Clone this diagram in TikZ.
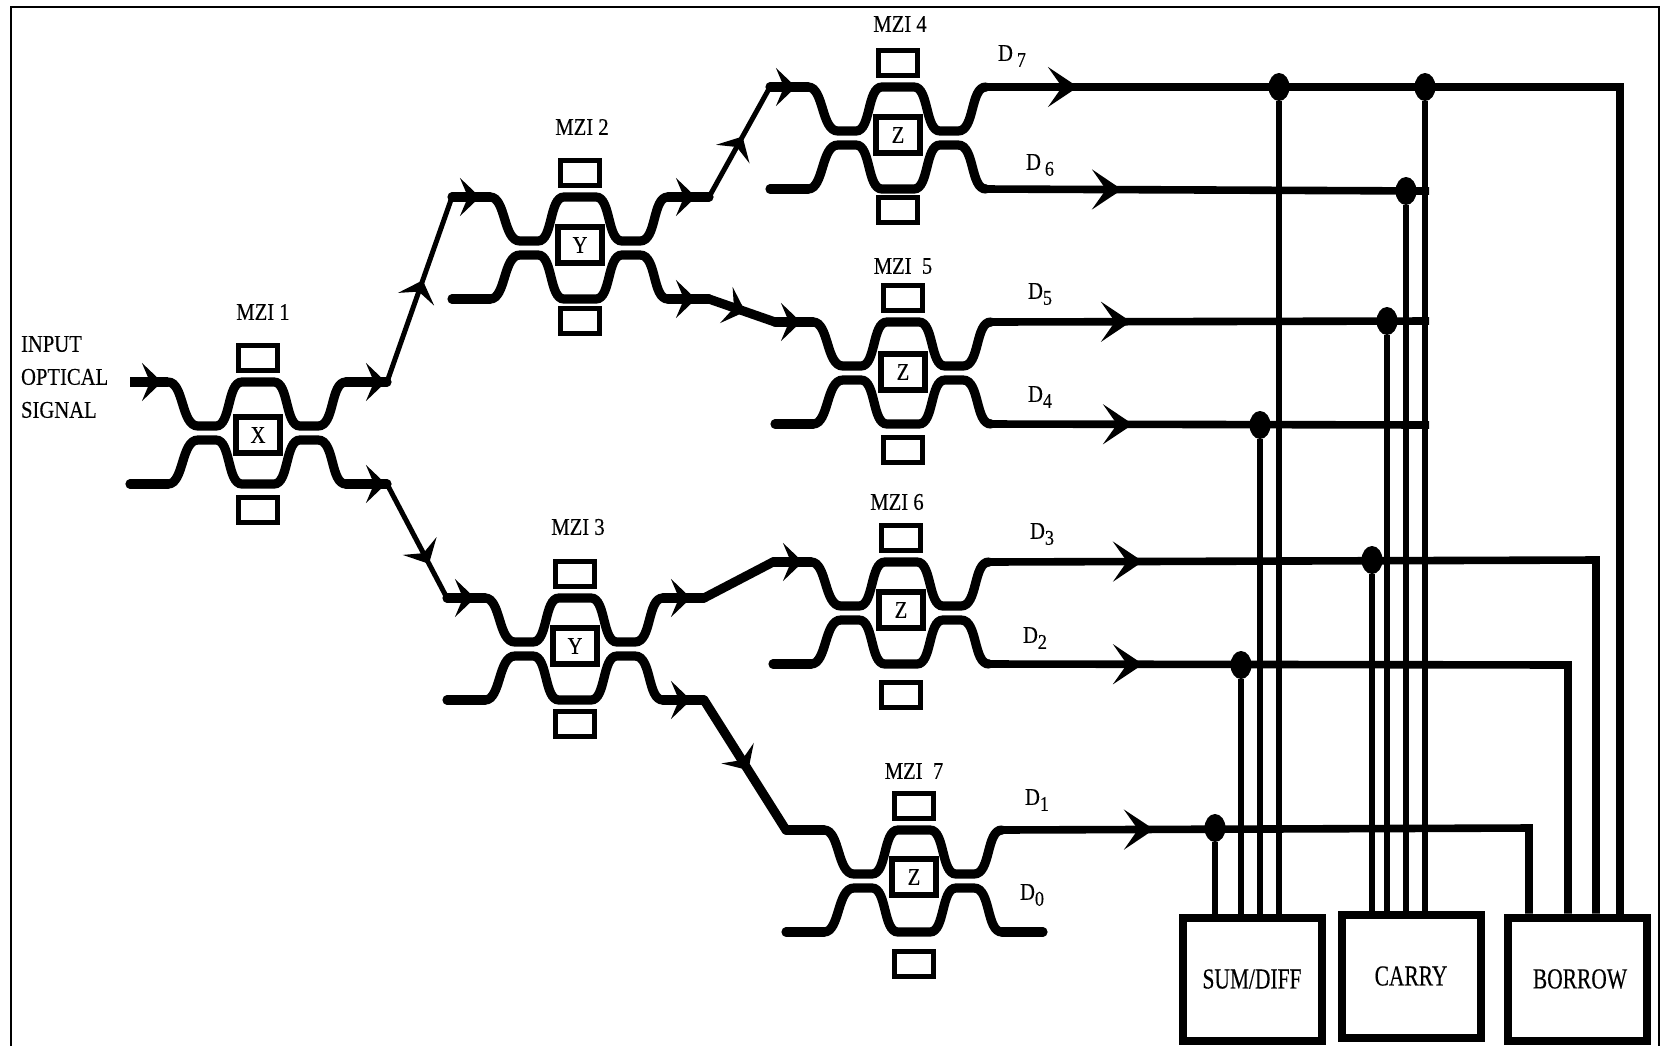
\documentclass[tikz,border=0pt]{standalone}
\usepackage{fontspec}
\setmainfont{Liberation Serif}[FakeStretch=0.86,FakeBold=0.25]
\newfontfamily\boxfont{Liberation Serif}[FakeStretch=0.74,FakeBold=0.25]
\usetikzlibrary{arrows.meta,decorations.markings,shapes.geometric}

\newcommand{\subdigit}[1]{\raisebox{-3pt}{\fontsize{10.5}{12}\selectfont #1}}

\tikzset{
  guide/.style={line width=4.6pt,line cap=round},
  thinguide/.style={line width=2.5pt},
  dataline/.style={line width=3.8pt},
  tapline/.style={line width=2.9pt},
  bigtip/.style={postaction={decorate,decoration={markings,mark=at position #1 with {\arrow{Stealth[length=15pt,width=20pt,inset=7pt]}}}}},
  smalltip/.style={postaction={decorate,decoration={markings,mark=at position #1 with {\arrow{Stealth[length=10pt,width=19pt,inset=4pt]}}}}},
  electrode/.style={draw,line width=2.4pt,minimum width=19.5pt,minimum height=12.5pt,inner sep=0pt},
  phasebox/.style={draw,line width=2.6pt,minimum width=22pt,minimum height=18pt,inner sep=0pt,font=\fontsize{12}{14}\selectfont},
  tag/.style={font=\fontsize{12}{14}\selectfont},
  dot/.style={ellipse,fill=black,minimum width=10.5pt,minimum height=14pt,inner sep=0pt},
  logicbox/.style={draw,line width=4pt,minimum width=69.5pt,minimum height=61.5pt,inner sep=0pt,font=\boxfont\fontsize{14.5}{16}\selectfont}
}

% one interferometer: name, x, y, letter, box offset, lower electrode offset
\newcommand{\mzi}[6]{%
  \begin{scope}[shift={(#2,#3)}]
    \foreach \s/\n in {-1/u,1/l} {
      \draw[guide] (-90,\s*51) .. controls (-74,\s*51) and (-77,\s*7) .. (-60,\s*7) -- (-42,\s*7)
        .. controls (-27,\s*7) and (-31,\s*51) .. (-16,\s*51) -- (16,\s*51)
        .. controls (31,\s*51) and (27,\s*7) .. (42,\s*7) -- (60,\s*7)
        .. controls (77,\s*7) and (72,\s*51) .. (88,\s*51);
      \coordinate (#1-\n-a) at (-128,\s*51);
      \coordinate (#1-\n-b) at (-90,\s*51);
      \coordinate (#1-\n-c) at (88,\s*51);
      \coordinate (#1-\n-d) at (129,\s*51);
    }
    \node[electrode] (#1-top) at (0,-75) {};
    \node[electrode] (#1-bot) at (0,#6) {};
    \node[phasebox] (#1-box) at (0,#5) {#4};
  \end{scope}}

\begin{document}
\begin{tikzpicture}[x=.5pt,y=-.5pt]
  \useasboundingbox (0,0) rectangle (1660,1046);
  \draw[line width=1.3pt] (11,1046) -- (11,7) -- (1659,7) -- (1659,1046);

  % Interferometers
  \mzi{m1}{258}{433}{X}{2}{77}
  \mzi{m2}{580}{248}{Y}{-3}{73}
  \mzi{m3}{575}{649}{Y}{-3}{75}
  \mzi{m4}{898}{138}{Z}{-3}{72}
  \mzi{m5}{903}{373}{Z}{-1}{77}
  \mzi{m6}{901}{613}{Z}{-3}{82}
  \mzi{m7}{914}{881}{Z}{-4}{83}

  % Labels
  \node[tag,align=left,anchor=west] (input) at (14,377) {INPUT\\[2.5pt]OPTICAL\\[2.5pt]SIGNAL};
  \node[tag] (t1) at (263,312) {MZI 1};
  \node[tag] (t2) at (582,127) {MZI 2};
  \node[tag] (t3) at (578,527) {MZI 3};
  \node[tag] (t4) at (900,24) {MZI 4};
  \node[tag] (t5) at (903,266) {MZI\ \ 5};
  \node[tag] (t6) at (897,502) {MZI 6};
  \node[tag] (t7) at (914,771) {MZI\ \ 7};
  \node[tag] (l7) at (1012,56) {D\,\subdigit{7}};
  \node[tag] (l6) at (1040,165) {D\,\subdigit{6}};
  \node[tag] (l5) at (1040,294) {D\subdigit{5}};
  \node[tag] (l4) at (1040,397) {D\subdigit{4}};
  \node[tag] (l3) at (1042,534) {D\subdigit{3}};
  \node[tag] (l2) at (1035,638) {D\subdigit{2}};
  \node[tag] (l1) at (1037,800) {D\subdigit{1}};
  \node[tag] (l0) at (1032,895) {D\subdigit{0}};

  % Output blocks
  \node[logicbox] (sum) at (1252,979) {SUM/DIFF};
  \node[logicbox] (carry) at (1411,976) {CARRY};
  \node[logicbox] (borrow) at (1577,979) {\hspace{3pt}BORROW};

  % Waveguides
  \draw[line width=5pt,smalltip=16pt] (m1-u-a) -- (m1-u-b);
  \draw[guide] (m1-l-a) -- (m1-l-b);
  \draw[guide,smalltip=20pt] (m1-u-c) -- (m1-u-d);
  \draw[guide,smalltip=20pt] (m1-l-c) -- (m1-l-d);
  \draw[thinguide,smalltip=.55] (m1-u-d) -- (m2-u-a);
  \draw[thinguide,smalltip=.7] (m1-l-d) -- (m3-u-a);
  \draw[guide,smalltip=14pt] (m2-u-a) -- (m2-u-b);
  \draw[guide] (m2-l-a) -- (m2-l-b);
  \draw[guide,smalltip=14pt] (m3-u-a) -- (m3-u-b);
  \draw[guide] (m3-l-a) -- (m3-l-b);
  \draw[guide,smalltip=14pt] (m2-u-c) -- (m2-u-d);
  \draw[guide,smalltip=14pt] (m2-l-c) -- (m2-l-d);
  \draw[thinguide,smalltip=.55] (m2-u-d) -- (m4-u-a);
  \draw[guide,smalltip=.55] (m2-l-d) -- (m5-u-a);
  \draw[guide,smalltip=14pt] (m3-u-c) -- (m3-u-d);
  \draw[guide,smalltip=14pt] (m3-l-c) -- (m3-l-d);
  \draw[guide] (m3-u-d) -- (m6-u-a);
  \draw[guide,smalltip=.54] (m3-l-d) -- (m7-u-a);
  \draw[guide,smalltip=13pt] (m4-u-a) -- (m4-u-b);
  \draw[guide] (m4-l-a) -- (m4-l-b);
  \draw[guide,smalltip=13pt] (m5-u-a) -- (m5-u-b);
  \draw[guide] (m5-l-a) -- (m5-l-b);
  \draw[guide,smalltip=15pt] (m6-u-a) -- (m6-u-b);
  \draw[guide] (m6-l-a) -- (m6-l-b);
  \draw[guide] (m7-u-a) -- (m7-u-b);
  \draw[guide] (m7-l-a) -- (m7-l-b);
  \draw[guide] (m7-l-c) -- (m7-l-d);

  % Junctions
  \node[dot] (s7) at (1279,87) {};
  \node[dot] (b7) at (1425,87) {};
  \node[dot] (c6) at (1406,191) {};
  \node[dot] (c5) at (1387,321) {};
  \node[dot] (s4) at (1260,425) {};
  \node[dot] (c3) at (1372,560) {};
  \node[dot] (s2) at (1241,665) {};
  \node[dot] (s1) at (1215,828) {};
  \coordinate (e7) at (1620,87);
  \coordinate (e6) at (1429,191);
  \coordinate (e5) at (1429,321);
  \coordinate (e4) at (1429,425);
  \coordinate (e3) at (1596,560);
  \coordinate (e2) at (1568,665);
  \coordinate (e1) at (1529,828);

  % Outputs
  \draw[dataline,bigtip=46pt] (m4-u-c) -- (e7) -- (e7 |- borrow.north);
  \draw[dataline,bigtip=68pt] (m4-l-c) -- (e6);
  \draw[dataline,bigtip=70pt] (m5-u-c) -- (e5);
  \draw[dataline,bigtip=71pt] (m5-l-c) -- (e4);
  \draw[dataline,bigtip=77pt] (m6-u-c) -- (e3) -- (e3 |- borrow.north);
  \draw[dataline,bigtip=77pt] (m6-l-c) -- (e2) -- (e2 |- borrow.north);
  \draw[dataline,bigtip=76pt] (m7-u-c) -- (e1) -- (e1 |- borrow.north);
  \draw[tapline] (s1) -- (s1 |- sum.north);
  \draw[tapline] (s2) -- (s2 |- sum.north);
  \draw[tapline] (s4) -- (s4 |- sum.north);
  \draw[tapline] (s7) -- (s7 |- sum.north);
  \draw[tapline] (c3) -- (c3 |- carry.north);
  \draw[tapline] (c5) -- (c5 |- carry.north);
  \draw[tapline] (c6) -- (c6 |- carry.north);
  \draw[tapline] (b7) -- (b7 |- carry.north);
\end{tikzpicture}
\end{document}
